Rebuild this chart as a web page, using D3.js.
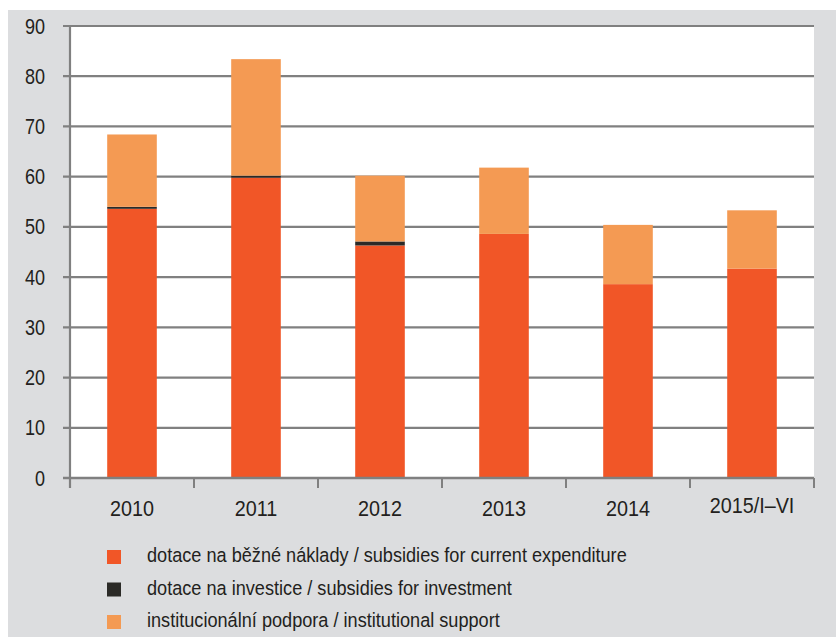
<!DOCTYPE html>
<html><head><meta charset="utf-8">
<script src="https://cdn.jsdelivr.net/npm/d3@7"></script>
<style>
html,body{margin:0;padding:0;background:#fff;}
svg text{font-family:"Liberation Sans","Arial",sans-serif;fill:#231f20;}
</style></head>
<body>
<svg id="chart" width="836" height="637"></svg>
<script>
const categories = ["2010","2011","2012","2013","2014","2015/I–VI"];
const currentExpenditure = [53.6, 59.8, 46.3, 48.6, 38.6, 41.7];
const investment = [0.4, 0.4, 0.8, 0.0, 0.0, 0.0];
const institutional = [14.4, 23.2, 13.1, 13.2, 11.8, 11.6];
const yTicks = [0,10,20,30,40,50,60,70,80,90];
const seriesNames = [
  "dotace na běžné náklady / subsidies for current expenditure",
  "dotace na investice / subsidies for investment",
  "institucionální podpora / institutional support"
];
const colors = ["#f15627", "#2b2a27", "#f49a53"];

const svg = d3.select("#chart");
svg.append("rect").attr("x",8).attr("y",10).attr("width",828).attr("height",627).attr("fill","#dcdddf");

const m = {left:70, right:814, top:26, bottom:478};
svg.append("rect").attr("x",m.left).attr("y",m.top).attr("width",m.right-m.left).attr("height",m.bottom-m.top).attr("fill","#fff");

const x = d3.scaleBand().domain(categories).range([m.left, m.right]).paddingInner(0.6).paddingOuter(0.3);
const y = d3.scaleLinear().domain([0,90]).range([m.bottom, m.top]);

// gridlines
svg.append("g").selectAll("line").data(yTicks.filter(d=>d>0)).join("line")
  .attr("x1", m.left-7).attr("x2", m.right)
  .attr("y1", d=>y(d)).attr("y2", d=>y(d))
  .attr("stroke","#808080").attr("stroke-width",2.2);

// stacked bars
const rows = categories.map((c,i)=>({cat:c, cur:currentExpenditure[i], inv:investment[i], ins:institutional[i]}));
const stack = d3.stack().keys(["cur","inv","ins"])(rows);
svg.append("g").selectAll("g").data(stack).join("g")
  .attr("fill",(d,i)=>colors[i])
  .selectAll("rect").data(d=>d.filter(s=>s[1]-s[0]>0)).join("rect")
  .attr("x", d=>x(d.data.cat))
  .attr("width", x.bandwidth())
  .attr("y", d=>y(d[1]))
  .attr("height", d=>y(d[0])-y(d[1]));

// y axis
const sy = 0.82;
const yAxis = d3.axisLeft(y).tickValues(yTicks).tickSize(0).tickPadding(25);
const gy = svg.append("g").attr("transform",`translate(${m.left},0)`).call(yAxis);
gy.select(".domain").remove();
gy.selectAll("text").attr("font-size",22).attr("font-family",null)
  .attr("x", -25/sy).attr("transform",`scale(${sy},1)`);
svg.append("line").attr("x1",m.left).attr("x2",m.left).attr("y1",m.top).attr("y2",m.bottom+10)
  .attr("stroke","#808080").attr("stroke-width",2.2);

// x axis line and boundary ticks
svg.append("line").attr("x1",m.left-7).attr("x2",m.right).attr("y1",m.bottom).attr("y2",m.bottom)
  .attr("stroke","#808080").attr("stroke-width",2.5);
const bounds = categories.map(c=>x(c)-x.step()*x.paddingInner()/2 ).concat([m.right]);
svg.append("g").selectAll("line").data(bounds).join("line")
  .attr("x1",d=>d).attr("x2",d=>d).attr("y1",m.bottom).attr("y2",m.bottom+10)
  .attr("stroke","#808080").attr("stroke-width",2);

const sx = 0.9;
const xAxis = d3.axisBottom(x).tickSize(0).tickPadding(0);
const gx = svg.append("g").attr("transform",`translate(0,${m.bottom})`).call(xAxis);
gx.select(".domain").remove();
gx.selectAll("text").attr("font-size",22).attr("font-family",null)
  .attr("y",(d,i)=> i===categories.length-1 ? 35 : 38).attr("dy",0)
  .attr("transform",`scale(${sx},1)`);

// legend
const sl = 0.885;
const lg = svg.append("g").selectAll("g").data(seriesNames).join("g")
  .attr("transform",(d,i)=>`translate(107,${562+i*32.5})`);
lg.append("rect").attr("x",0).attr("y",-12).attr("width",14).attr("height",14).attr("fill",(d,i)=>colors[i]);
lg.append("text").attr("transform",`translate(40,0) scale(${sl},1)`).attr("font-size",20.5).text(d=>d);
</script>
</body></html>
